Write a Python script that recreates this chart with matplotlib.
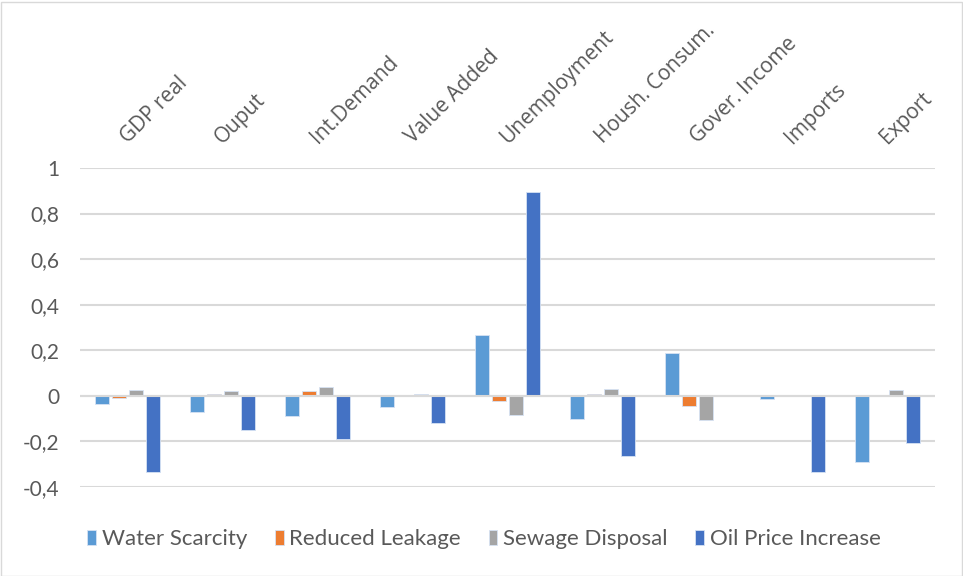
import numpy as np
import matplotlib.pyplot as plt
from matplotlib.patches import Rectangle

categories = ['GDP real', 'Ouput', 'Int.Demand', 'Value Added', 'Unemployment',
              'Housh. Consum.', 'Gover. Income', 'Imports', 'Export']

water_scarcity = [-0.035, -0.069, -0.090, -0.047, 0.266, -0.100, 0.189, -0.013, -0.290]
reduced_leakage = [-0.010, 0.008, 0.020, 0.002, -0.022, 0.008, -0.045, 0.0, 0.005]
sewage_disposal = [0.026, 0.020, 0.040, 0.010, -0.083, 0.032, -0.104, 0.0, 0.026]
oil_price = [-0.333, -0.150, -0.190, -0.117, 0.895, -0.262, 0.002, -0.332, -0.207]

series_names = ['Water Scarcity', 'Reduced Leakage', 'Sewage Disposal', 'Oil Price Increase']
series_colors = ['#5B9BD5', '#ED7D31', '#A5A5A5', '#4472C4']
yticks = [-0.4, -0.2, 0, 0.2, 0.4, 0.6, 0.8, 1]

fig = plt.figure(figsize=(9.63, 5.76), dpi=100)
ax = fig.add_axes([80 / 963, 1 - 487 / 576, 855 / 963, 319 / 576])

x = np.arange(len(categories))
slot = 0.179
width = 0.147
for k, (vals, name, col) in enumerate(zip(
        [water_scarcity, reduced_leakage, sewage_disposal, oil_price],
        series_names, series_colors)):
    ax.bar(x + (k - 1.5) * slot, vals, width, color=col, label=name,
           edgecolor='#D6E2F3', linewidth=0.6, zorder=3)

ax.set_xlim(-0.5, len(categories) - 0.5)
ax.set_ylim(-0.4, 1.0)
ax.set_yticks(yticks)
ax.set_yticklabels([('%g' % t).replace('.', ',') for t in yticks],
                   fontfamily='Lato', fontsize=15, color='#595959')
ax.yaxis.grid(True, color='#D9D9D9', linewidth=1.5, zorder=0)
ax.axhline(0, color='#D9D9D9', linewidth=1.5, zorder=4)
ax.tick_params(axis='y', length=0, pad=15)

ax.xaxis.tick_top()
ax.set_xticks(x)
ax.set_xticklabels(categories, rotation=45, ha='left', va='baseline',
                   rotation_mode='anchor', fontfamily='Open Sans',
                   fontsize=15, color='#595959')
ax.tick_params(axis='x', length=0, pad=17)

for s in ax.spines.values():
    s.set_visible(False)

leg = fig.legend(loc='lower left', bbox_to_anchor=(76 / 963, 1 - 560 / 576),
                 ncol=4, frameon=False, prop={'family': 'Lato', 'size': 16},
                 handlelength=0.4, handleheight=0.65, handletextpad=0.25,
                 columnspacing=1.25, borderpad=0)
for t in leg.get_texts():
    t.set_color('#595959')

fig.patches.append(Rectangle((0.5 / 963, 0.5 / 576), 961 / 963, 574 / 576,
                             transform=fig.transFigure, fill=False,
                             edgecolor='#D9D9D9', linewidth=1))

fig.savefig('out.png', dpi=100)
